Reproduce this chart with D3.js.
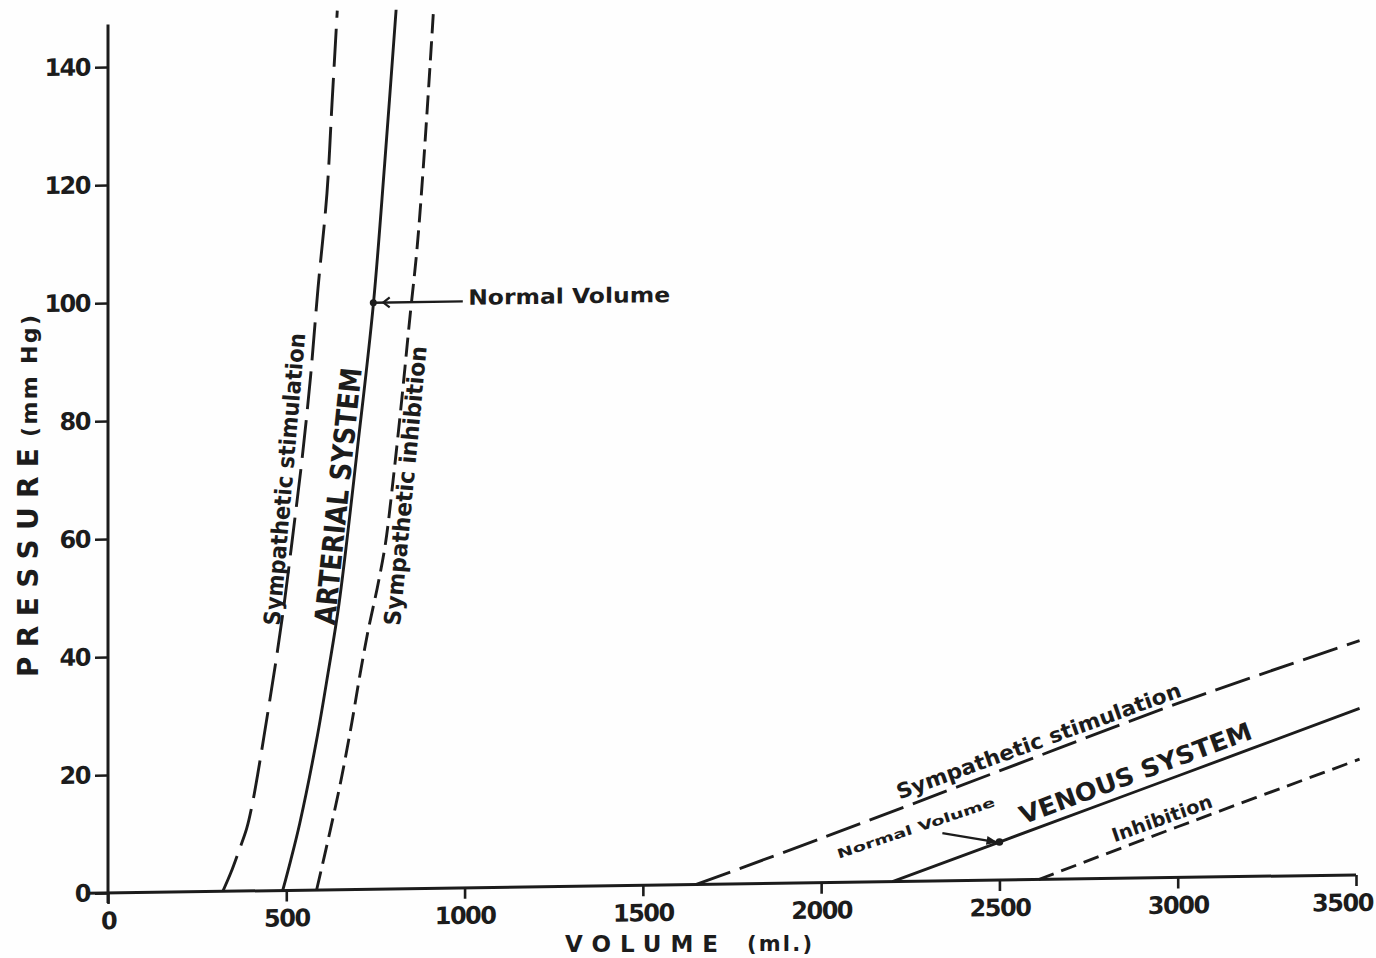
<!DOCTYPE html>
<html><head><meta charset="utf-8">
<script src="https://cdn.jsdelivr.net/npm/d3@7"></script>
<style>
body{margin:0;background:#fff}
text{font-family:"DejaVu Sans Condensed","DejaVu Sans",sans-serif;font-weight:bold;fill:#1c1c1c}
</style>
</head><body><svg id="c" width="1376" height="958"></svg>
<script>
// ---- data ----
const xTicks = [0, 500, 1000, 1500, 2000, 2500, 3000, 3500];
const yTicks = [0, 20, 40, 60, 80, 100, 120, 140];
// Arterial system (volume ml, pressure mmHg)
const artStimV = [322, 345, 367, 389, 405, 420, 445, 470, 495, 520, 545, 568, 589, 614, 628, 643];
const artStimP = [0, 3.2, 6.8, 10.6, 14.8, 19.8, 29, 38.5, 49, 61, 73.5, 87, 102, 118, 133, 149];
const artNormV = [490, 512, 538, 585, 617, 648, 700, 744, 776, 808];
const artNormP = [0, 5, 11.4, 25.4, 36.7, 48.5, 75, 99, 123, 149];
const artInhV = [585, 623, 655, 683, 707, 730, 755, 778, 800, 824, 847, 866, 884, 909, 913];
const artInhP = [0, 10, 19, 28, 36.5, 44, 51, 58.5, 69.5, 83, 97, 108, 122, 145, 149];
// Venous system
const venStimV = [1650, 2000, 2500, 3000, 3510];
const venStimP = [0, 7.5, 18.5, 29.5, 39.7];
const venNormV = [2200, 2500, 3000, 3510];
const venNormP = [0, 6.45, 17.2, 28.2];
const venInhV = [2610, 3000, 3510];
const venInhP = [0, 8.6, 19.6];
const normalArt = {v: 744, p: 99};
const normalVen = {v: 2500, p: 6.45};

// ---- setup ----
const svg = d3.select("#c");
svg.append("rect").attr("width",1376).attr("height",958).attr("fill","#fefefe");
const x = d3.scaleLinear().domain([0, 3500]).range([108, 1356]);
const y = d3.scaleLinear().domain([0, 140]).range([893, 67]);
const k = -0.0145; // slight tilt of the scanned figure
const g = svg.append("g").attr("transform", `matrix(1,${k},0,1,0,${-k*x(0)})`);
const ink = "#1c1c1c";

const defs = svg.append("defs");
defs.append("marker").attr("id","arr").attr("viewBox","0 0 10 10").attr("refX",9).attr("refY",5)
  .attr("markerWidth",5).attr("markerHeight",5).attr("orient","auto")
  .append("path").attr("d","M0,1 L10,5 L0,9 Z").attr("fill",ink);

// ---- axes ----
const yAxis = d3.axisLeft(y).tickValues(yTicks).tickSize(13).tickPadding(5).tickFormat(d3.format("d"));
const xAxis = d3.axisBottom(x).tickValues(xTicks).tickSize(11).tickPadding(8).tickFormat(d3.format("d"));
const gy = g.append("g").attr("transform",`translate(${x(0)},0)`).call(yAxis);
const gx = g.append("g").attr("transform",`translate(0,${y(0)})`).call(xAxis);
[gx, gy].forEach(a => {
  a.select(".domain").remove();
  a.selectAll(".tick line").attr("stroke", ink).attr("stroke-width", 2.6);
  a.selectAll(".tick text").attr("font-size", 24).attr("letter-spacing", -1.5)
    .attr("fill", ink).style("font-family","'DejaVu Sans'");
});
gx.selectAll(".tick text").filter(d => d === 3500).attr("dx", -14);
g.append("line").attr("x1", x(-60)).attr("x2", x(3500)).attr("y1", y(0)).attr("y2", y(0))
  .attr("stroke", ink).attr("stroke-width", 3);
g.append("line").attr("x1", x(0)).attr("x2", x(0)).attr("y1", y(-1.7)).attr("y2", y(147.2))
  .attr("stroke", ink).attr("stroke-width", 3);

// ---- curves ----
const zip = (V, P) => V.map((v, i) => ({v, p: P[i]}));
const line = d3.line().x(d => x(d.v)).y(d => y(d.p)).curve(d3.curveCatmullRom.alpha(0.5));
const curves = [
  {d: zip(artStimV, artStimP), dash: "38,11"},
  {d: zip(artNormV, artNormP), dash: null},
  {d: zip(artInhV, artInhP), dash: "19,8"},
  {d: zip(venStimV, venStimP), dash: "36,10"},
  {d: zip(venNormV, venNormP), dash: null},
  {d: zip(venInhV, venInhP), dash: "16,8"}
];
curves.forEach(c => {
  g.append("path").attr("d", line(c.d)).attr("fill","none").attr("stroke", ink)
    .attr("stroke-width", 2.9).attr("stroke-dasharray", c.dash);
});

// ---- annotations ----
function label(txt, v, p, angle, size, len, baseline) {
  g.append("text").attr("transform", `translate(${x(v)},${y(p)}) rotate(${angle})`)
    .attr("text-anchor","middle").attr("dominant-baseline", baseline || "central")
    .attr("font-size", size).attr("textLength", len).attr("lengthAdjust","spacingAndGlyphs")
    .text(txt);
}
// arterial labels
label("Sympathetic  stimulation", 495, 69.7, -85, 23, 293);
label("ARTERIAL  SYSTEM", 646, 66.7, -84, 29, 258);
label("Sympathetic  inhibition", 834, 68.3, -84.5, 23, 280);
// arterial normal volume leader
g.append("line").attr("x1", x(995)).attr("x2", x(normalArt.v)).attr("y1", y(normalArt.p + 0.4)).attr("y2", y(normalArt.p + 0.4))
  .attr("stroke", ink).attr("stroke-width", 2.4);
g.append("path").attr("d", `M${x(790)},${y(normalArt.p+0.4)-5} L${x(772)},${y(normalArt.p+0.4)} L${x(790)},${y(normalArt.p+0.4)+5}`)
  .attr("fill","none").attr("stroke", ink).attr("stroke-width", 2.2);
g.append("circle").attr("cx", x(normalArt.v)).attr("cy", y(normalArt.p + 0.4)).attr("r", 3.5).attr("fill", ink);
g.append("text").attr("x", x(1010)).attr("y", y(98.8)).attr("font-size", 21)
  .attr("textLength", 202).attr("lengthAdjust","spacingAndGlyphs").text("Normal  Volume");

// venous labels
label("Sympathetic  stimulation", 2617, 22.3, -19.3, 21, 300, "alphabetic");
label("VENOUS  SYSTEM", 2890, 16.4, -19.8, 25, 245, "alphabetic");
label("Inhibition", 2962, 9.0, -18.9, 19, 105, "alphabetic");
label("Normal   Volume", 2270, 8.3, -17.8, 13, 165, "alphabetic");
g.append("line").attr("x1", x(2340)).attr("y1", y(8.1)).attr("x2", x(normalVen.v)-3).attr("y2", y(normalVen.p))
  .attr("stroke", ink).attr("stroke-width", 2.2).attr("marker-end","url(#arr)");
g.append("circle").attr("cx", x(normalVen.v)).attr("cy", y(normalVen.p)).attr("r", 3.8).attr("fill", ink);

// ---- axis titles ----
svg.append("text").attr("transform","translate(38,677) rotate(-90)").attr("font-size", 28)
  .attr("textLength", 229).attr("lengthAdjust","spacing").style("font-family","'DejaVu Sans'").text("PRESSURE");
svg.append("text").attr("transform","translate(37,437) rotate(-90)").attr("font-size", 22)
  .attr("textLength", 122).attr("lengthAdjust","spacing").style("font-family","'DejaVu Sans'").text("(mm Hg)");
svg.append("text").attr("x", 565).attr("y", 952).attr("font-size", 23)
  .attr("textLength", 153).attr("lengthAdjust","spacing").style("font-family","'DejaVu Sans'").text("VOLUME");
svg.append("text").attr("x", 747).attr("y", 951).attr("font-size", 21)
  .attr("textLength", 65).attr("lengthAdjust","spacing").style("font-family","'DejaVu Sans'").text("(ml.)");
</script>
</body></html>
